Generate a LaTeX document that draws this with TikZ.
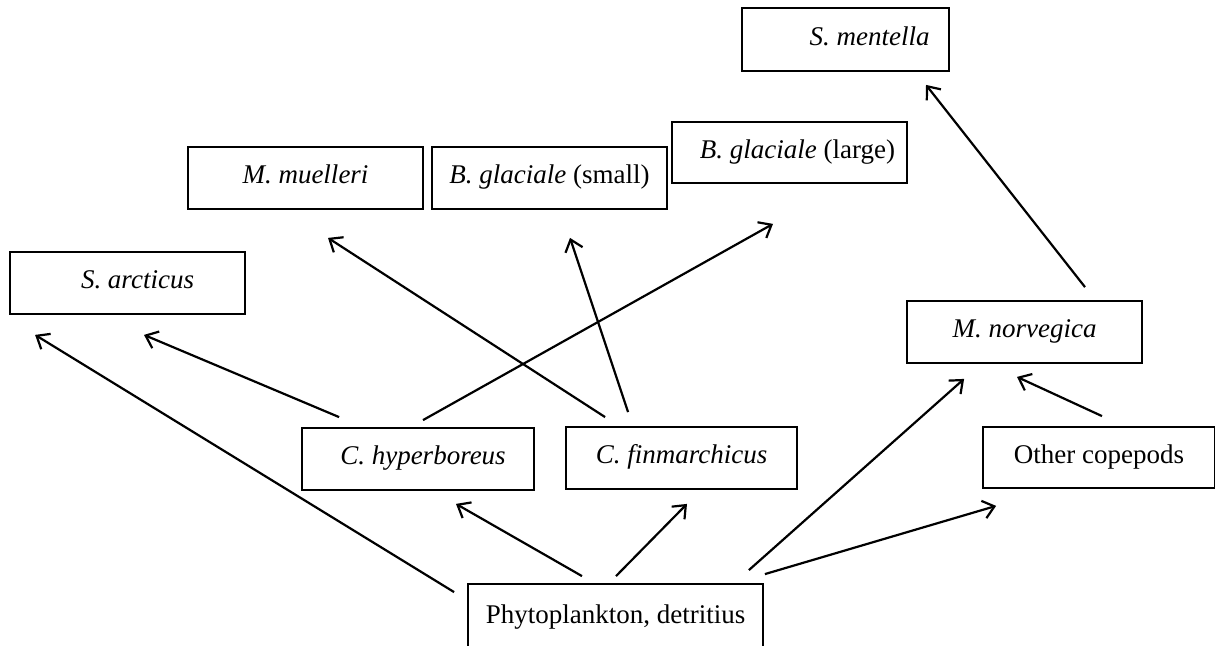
\documentclass[tikz,border=0pt]{standalone}
\usepackage{fontspec}
\setmainfont{Liberation Serif}
\usetikzlibrary{calc,arrows.meta}

\begin{document}
\begin{tikzpicture}[x=0.5pt,y=-0.5pt,>={Straight Barb[length=5.5pt,width=9pt]},line width=1.1pt,
    box/.style={rectangle,draw,line width=0.9pt,inner sep=0pt,minimum width=117.5pt,minimum height=31pt,text height=1.5ex,text depth=.25ex,font=\fontsize{13.5}{16}\selectfont}]

            \useasboundingbox (0,0) rectangle (1215,646);

            \node[box, minimum width=103.5pt, minimum height=31.5pt] (sment) at (845.5,39.5) {\hspace*{24pt}\textit{S. mentella}};
            \node[box] (mmuel) at (305.5,178) {\textit{M. muelleri}};
            \node[box] (bgsmall) at (549.5,178) {\textit{B. glaciale} (small)};
            \node[box, minimum height=30.5pt] (bglarge) at (789.5,152.5) {\hspace*{8pt}\textit{B. glaciale} (large)};
            \node[box] (sarc) at (127.5,283) {\hspace*{10pt}\textit{S. arcticus}};
            \node[box] (mnorv) at (1024.5,332) {\textit{M. norvegica}};
            \node[box, minimum width=116pt] (chyp) at (418,459) {\hspace*{5pt}\textit{C. hyperboreus}};
            \node[box, minimum width=115.5pt] (cfin) at (681.5,458) {\textit{C. finmarchicus}};
            \node[box, minimum width=116pt, minimum height=30.5pt] (othcop) at (1099,457.5) {Other copepods};
            \node[box, minimum width=147.5pt, minimum height=34pt] (phyto) at (615.5,618) {Phytoplankton, detritius};

            \draw[->] ($(phyto.north west)+(-13,9)$) to ($(sarc.south west)+(26,20)$);
            \draw[->] ($(chyp.north west)+(38,-10)$) to ($(sarc.south)+(16.5,20)$);
            \draw[->] ($(cfin.north west)+(40,-9)$) to ($(mmuel.south)+(22.5,28)$);
            \draw[->] ($(cfin.north west)+(63,-14)$) to ($(bgsmall.south)+(20.5,28)$);
            \draw[->] ($(chyp.north)+(5,-7)$) to ($(bglarge.south)+(-16.5,40)$);
            \draw[->] ($(phyto.north)+(-33.5,-7)$) to ($(chyp.south)+(38,13)$);
            \draw[->] ($(phyto.north)+(0.5,-7)$) to ($(cfin.south)+(5.5,14)$);
            \draw[->] ($(phyto.north east)+(-15,-13)$) to ($(mnorv.south west)+(58,15)$);
            \draw[->] ($(phyto.north east)+(1,-9)$) to ($(othcop.south west)+(14,17)$);
            \draw[->] ($(othcop.north)+(3,-10)$) to ($(mnorv.south)+(-7.5,13)$);
            \draw[->] ($(mnorv.north)+(60.5,-13)$) to ($(sment.south)+(80.5,13)$);

            ;
        \end{tikzpicture}
\end{document}
